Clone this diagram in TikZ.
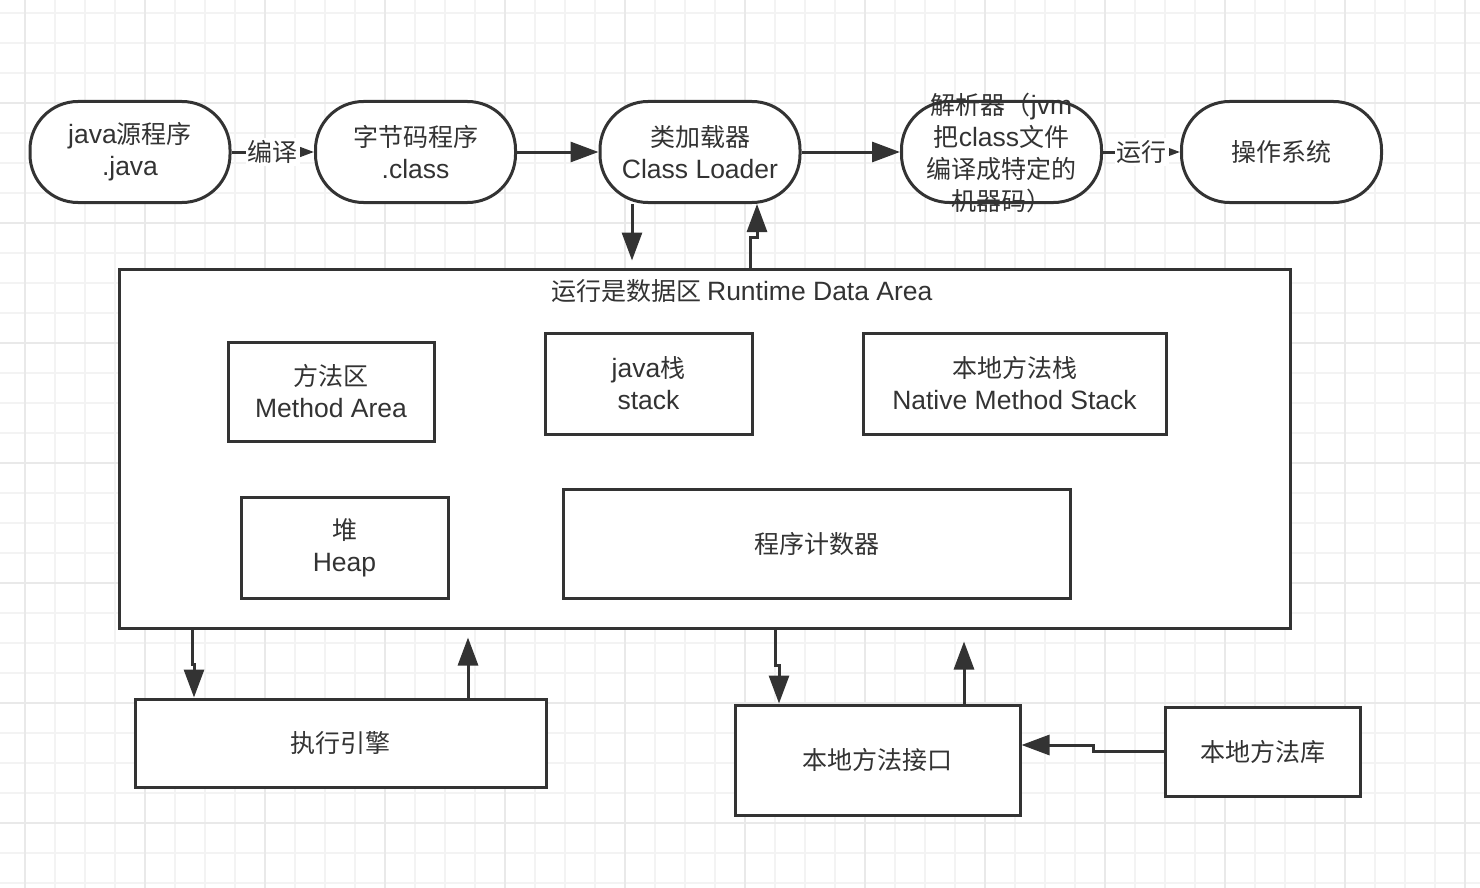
\documentclass[tikz,border=0pt]{standalone}
\usepackage{fontspec}
\setmainfont{Noto Sans CJK SC}
\newfontfamily\latfont[Scale=1.06]{Liberation Sans}
\newcommand\lsf[1]{{\latfont #1}}
\usetikzlibrary{arrows.meta,calc}
\definecolor{ink}{HTML}{333333}
\definecolor{gridminor}{HTML}{F3F3F3}
\definecolor{gridmajor}{HTML}{E9E9E9}
\begin{document}
\begin{tikzpicture}[x=1pt,y=-1pt,
  txt/.style={text=ink, font=\fontsize{25}{32}\selectfont, align=center, inner sep=0pt},
  roundbox/.style={txt, draw=ink, line width=3pt, rounded corners=48pt, minimum width=200pt, minimum height=101pt, fill=white},
  sqbox/.style={txt, draw=ink, line width=3pt, fill=white},
  arr/.style={draw=ink, line width=3pt, -{Triangle[length=28pt,width=20pt]}},
  elabel/.style={txt, fill=white, inner sep=2pt}]
\useasboundingbox (0,0) rectangle (1480,888);
\fill[white] (0,0) rectangle (1480,888);
\foreach \x in {25,55,...,1465} \draw[gridminor, line width=1.5pt] (\x,0) -- (\x,888);
\foreach \y in {13,43,...,883} \draw[gridminor, line width=1.5pt] (0,\y) -- (1480,\y);
\foreach \x in {25,145,...,1465} \draw[gridmajor, line width=1.5pt] (\x,0) -- (\x,888);
\foreach \y in {103,223,...,823} \draw[gridmajor, line width=1.5pt] (0,\y) -- (1480,\y);

% top row
\node[roundbox] (src) at (130,152) {\lsf{java}源程序\\\lsf{.java}};
\node[roundbox] (bc) at (415.5,152) {字节码程序\\\lsf{.class}};
\node[roundbox] (cl) at (700,152) {类加载器\\\lsf{Class Loader}};
\node[roundbox] (interp) at (1001.5,152) {};
\node[txt] (interpT) at (1001.5,153) {解析器（\lsf{jvm}\\把\lsf{class}文件\\编译成特定的\\机器码）};
\node[roundbox] (os) at (1281.5,152) {操作系统};

\draw[arr] (src.east) -- node[elabel] {编译} (bc.west);
\draw[arr] (bc.east) -- (cl.west);
\draw[arr] (cl.east) -- (interp.west);
\draw[arr] (interp.east) -- node[elabel] {运行} (os.west);

% runtime data area
\node[sqbox, minimum width=1171pt, minimum height=359pt] (rda) at (704.5,448.5) {};
\node[txt] (rdaT) at (742,291) {运行是数据区 \lsf{Runtime Data Area}};
\node[sqbox, minimum width=206pt, minimum height=99pt] (ma) at (331,391.5) {方法区\\\lsf{Method Area}};
\node[sqbox, minimum width=207pt, minimum height=101pt] (js) at (648.5,383.5) {\lsf{java}栈\\\lsf{stack}};
\node[sqbox, minimum width=303pt, minimum height=101pt] (nms) at (1014.5,383.5) {本地方法栈\\\lsf{Native Method Stack}};
\node[sqbox, minimum width=207pt, minimum height=101pt] (heap) at (344.5,547.5) {堆\\\lsf{Heap}};
\node[sqbox, minimum width=507pt, minimum height=109pt] (pc) at (816.5,543.5) {程序计数器};

% class loader <-> runtime
\draw[arr, shorten >=7pt] ($(cl.south)+(-68,0)$) -- ($(rda.north)+(-72.5,0)$);
\draw[arr] ($(rda.north)+(45.5,0)$) |- ($(cl.south)+(57,33)$) -- ($(cl.south)+(57,0)$);

% bottom
\node[sqbox, minimum width=411pt, minimum height=88pt] (ee) at (340.5,743) {执行引擎};
\node[sqbox, minimum width=285pt, minimum height=110pt] (nmi) at (877.5,760) {本地方法接口};
\node[sqbox, minimum width=195pt, minimum height=89pt] (nml) at (1262.5,751.5) {本地方法库};

\draw[arr] ($(rda.south)+(-512.5,0)$) -- ++(0,35) -| ($(ee.north)+(-146.5,0)$);
\draw[arr, shorten >=8pt] ($(ee.north)+(127.5,0)$) -- ($(rda.south)+(-236.5,0)$);
\draw[arr] ($(rda.south)+(70.5,0)$) -- ++(0,36) -| ($(nmi.north)+(-98.5,0)$);
\draw[arr, shorten >=12pt] ($(nmi.north)+(86.5,0)$) -- ($(rda.south)+(259.5,0)$);
\draw[arr] (nml.west) -| ($(nmi.east)+(72,-15)$) -- ($(nmi.east)+(0,-15)$);
\end{tikzpicture}
\end{document}
